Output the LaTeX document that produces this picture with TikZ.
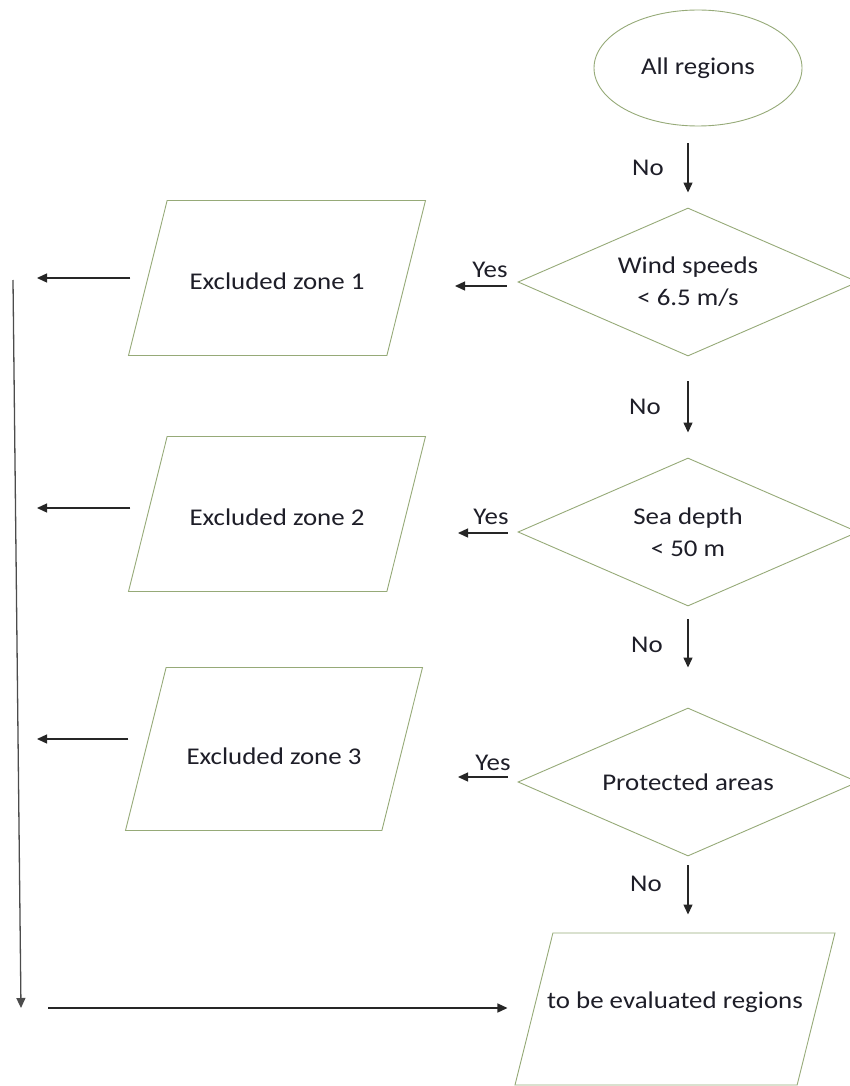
\documentclass[tikz,border=0pt]{standalone}
\usepackage{fontspec}
\setmainfont{Carlito}[FakeStretch=1.12]
\usetikzlibrary{shapes.geometric,arrows.meta}
\definecolor{boxline}{RGB}{150,170,120}
\definecolor{txt}{RGB}{30,30,40}

\begin{document}
\begin{tikzpicture}[x=1pt,y=-1pt,font=\fontsize{24}{32}\selectfont,text=txt,
  outline/.style={draw=boxline, line width=0.9pt, fill=white},
  terminal/.style={outline, ellipse, minimum width=208pt, minimum height=116pt},
  decision/.style={outline, diamond, aspect=2.3, inner sep=0pt, align=center,
    minimum width=340pt, minimum height=148pt},
  zone/.style={outline, trapezium, trapezium left angle=76, trapezium right angle=104,
    trapezium stretches body, minimum width=297pt, text height=23pt, text depth=0pt,
    inner ysep=66pt},
  arr/.style={-{Triangle[length=10pt,width=9pt]}, line width=1.3pt, color=black!85},
  lbl/.style={inner sep=0pt}]
\useasboundingbox (0,0) rectangle (849,1086);
% main column
\node[terminal] (all) at (698,68) {All regions};
\node[decision] (wind) at (688,282) {Wind speeds\\< 6.5 m/s};
\node[decision] (depth) at (688,532) {Sea depth\\< 50 m};
\node[decision] (prot) at (688,782) {Protected areas};
\node[zone, minimum width=320pt, inner xsep=0pt, inner ysep=64.5pt, text height=11pt, text depth=12pt]
  (final) at (675,1009) {\makebox[200pt]{to be evaluated regions}};
% excluded zones
\node[zone] (zone1) at (277,278) {Excluded zone 1};
\node[zone] (zone2) at (277,514) {Excluded zone 2};
\node[zone, text height=31pt, text depth=-8pt] (zone3) at (274,749) {Excluded zone 3};
% labels
\node[lbl] (no1) at (648,168) {No};
\node[lbl] (no2) at (645,407) {No};
\node[lbl] (no3) at (647,645) {No};
\node[lbl] (no4) at (646,884) {No};
\node[lbl] (yes1) at (490,270) {Yes};
\node[lbl] (yes2) at (491,517) {Yes};
\node[lbl] (yes3) at (493,763) {Yes};
% free ends
\coordinate (yestip1) at (455,286);
\coordinate (yestip2) at (458,533);
\coordinate (yestip3) at (458,777);
\coordinate (out1) at (37,278);
\coordinate (out2) at (37,508);
\coordinate (out3) at (37,739);
\coordinate (bustop) at (13,280);
\coordinate (busend) at (21,1008);
\coordinate (busout) at (48,1008);
% No arrows
\draw[arr, shorten <=17pt, shorten >=15pt] (wind.north |- all.south) -- (wind.north);
\draw[arr, shorten <=25pt, shorten >=25pt] (wind.south) -- (depth.north);
\draw[arr, shorten <=13pt, shorten >=40pt] (depth.south) -- (prot.north);
\draw[arr, shorten <=9pt, shorten >=18pt] (prot.south) -- (prot.south |- final.north);
% Yes arrows
\draw[arr, shorten <=11pt] (wind.west |- yestip1) -- (yestip1);
\draw[arr, shorten <=10pt] (depth.west |- yestip2) -- (yestip2);
\draw[arr, shorten <=10pt] (prot.west |- yestip3) -- (yestip3);
% out of the zones
\draw[arr, shorten <=17pt] (zone1.west |- out1) -- (out1);
\draw[arr, shorten <=17pt] (zone2.west |- out2) -- (out2);
\draw[arr, shorten <=17pt] (zone3.west |- out3) -- (out3);
\draw[arr, color=black!70] (bustop) -- (busend);
\draw[arr, shorten >=26pt] (busout) -- (busout -| final.west);
\end{tikzpicture}
\end{document}
